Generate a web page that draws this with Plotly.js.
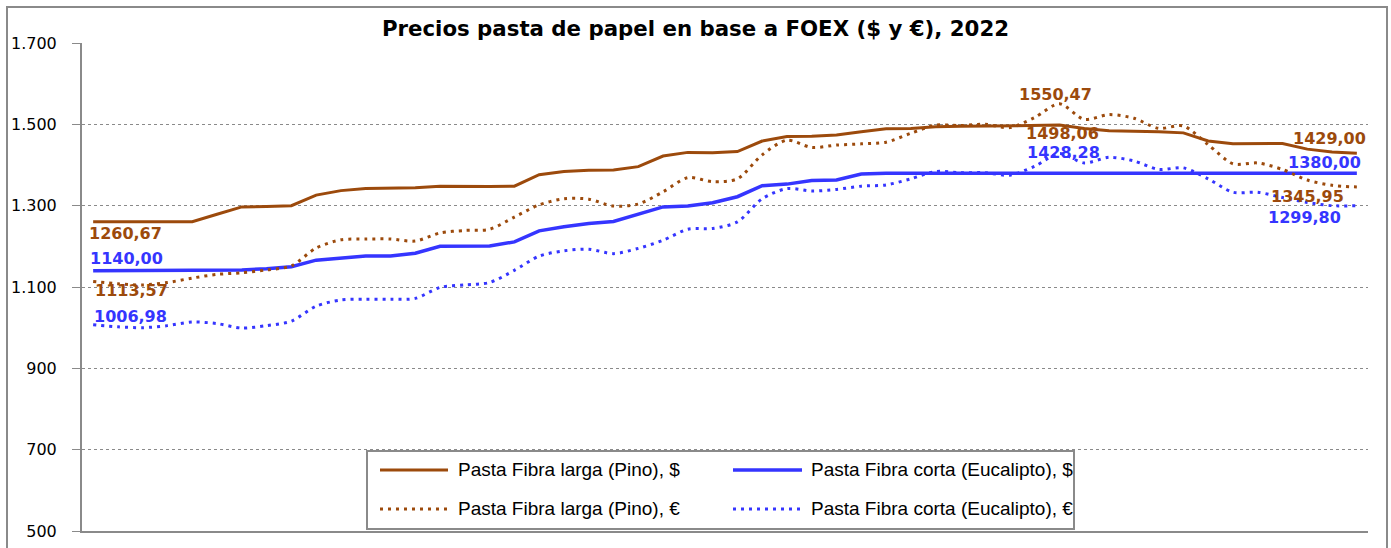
<!DOCTYPE html>
<html><head><meta charset="utf-8">
<script src="https://cdn.plot.ly/plotly-3.0.1.min.js"></script>
<style>html,body{margin:0;padding:0;background:#fff;} #chart{width:1391px;height:548px;}</style>
</head><body><div id="chart"></div>
<script>
// ---- DATA ----
const semanas = [1,2,3,4,5,6,7,8,9,10,11,12,13,14,15,16,17,18,19,20,21,22,23,24,25,26,27,28,29,30,31,32,33,34,35,36,37,38,39,40,41,42,43,44,45,46,47,48,49,50,51,52];
const pinoUSD = [1260.67,1260.67,1260.67,1260.67,1260.67,1279,1297,1298,1300,1326,
                 1337,1342,1343,1344,1348,1347,1347,1348,1376,1384,
                 1387,1388,1396,1422,1431,1430,1433,1459,1470,1471,
                 1474,1482,1489,1490,1494,1495,1496,1497,1498,1498.06,
                 1490,1484,1483,1482,1479,1459,1452,1452,1453,1439,
                 1432,1429.00];
const eucaUSD = [1140,1140,1140,1140,1140,1140,1142,1145,1150,1166,
                 1172,1176,1176,1183,1200,1200,1201,1211,1238,1248,
                 1256,1261,1279,1297,1299,1307,1322,1349,1353,1362,
                 1363,1378,1380,1380,1380,1380,1380,1380,1380,1380,
                 1380,1380,1380,1380,1380,1380,1380,1380,1380,1380,
                 1380,1380.00];
const pinoEUR = [1113.57,1108,1105,1111,1122,1131,1135,1142,1152,1196,
                 1216,1218,1218,1213,1233,1239,1242,1272,1302,1317,
                 1316,1299,1304,1334,1369,1359,1366,1425,1461,1443,
                 1449,1452,1456,1478,1498,1497,1500,1492,1517,1550.47,
                 1512,1524,1515,1490,1496,1450,1403,1405,1389,1363,
                 1350,1345.95];
const eucaEUR = [1006.98,1002,1000,1005,1014,1010,999,1005,1016,1053,
                 1068,1070,1070,1072,1099,1105,1111,1141,1176,1189,
                 1193,1182,1195,1215,1242,1244,1260,1317,1342,1336,
                 1340,1348,1351,1366,1384,1381,1381,1375,1397,1428.28,
                 1405,1419,1410,1389,1393,1366,1333,1333,1320,1308,
                 1300,1299.80];
const nombres = ["Pasta Fibra larga (Pino), $","Pasta Fibra corta (Eucalipto), $",
                 "Pasta Fibra larga (Pino), €","Pasta Fibra corta (Eucalipto), €"];
const yTicks = [500,700,900,1100,1300,1500,1700];
const titulo = "Precios pasta de papel en base a FOEX ($ y €), 2022";

// ---- STYLE ----
const marron = "#9C4A0C", azul = "#3535FF", gris = "#8a8a8a";
const W = 1391, H = 548, L = 82, R = 23, T = 43, B = 17;
const PW = W - L - R, PH = H - T - B;
const fx = px => (px - L) / PW;
const fy = py => (H - B - py) / PH;
const DOT = "3px,5px";

const series = [
  {y: pinoUSD, color: marron, dash: "solid", width: 3, shape: "linear"},
  {y: eucaUSD, color: azul, dash: "solid", width: 3.5, shape: "linear"},
  {y: pinoEUR, color: marron, dash: DOT, width: 3, shape: "spline"},
  {y: eucaEUR, color: azul, dash: DOT, width: 3, shape: "spline"}
];
const traces = series.map((s, k) => ({
  x: semanas, y: s.y, type: "scatter", mode: "lines", name: nombres[k],
  line: {color: s.color, width: s.width, dash: s.dash, shape: s.shape, smoothing: 0.8},
  showlegend: false, hoverinfo: "skip"
}));

const fmt = v => v.toFixed(2).replace(".", ",");
// [serie, punto, xanchor, xshift, yshift]
const etiquetas = [
  [0, 0, "left", -6, -12],
  [1, 0, "left", -5, 12],
  [2, 0, "left", 0, -9],
  [3, 0, "left", -1, 8],
  [2, 39, "center", -4, 9],
  [0, 39, "center", 3, -8],
  [3, 39, "center", 4, 1],
  [0, 51, "right", 11, 15],
  [1, 51, "right", 6, 11],
  [2, 51, "right", -11, -10],
  [3, 51, "right", -14, -12]
];
const annotations = etiquetas.map(([s, i, xa, xs, ys]) => ({
  x: semanas[i], y: series[s].y[i], xref: "x", yref: "y", showarrow: false,
  text: fmt(series[s].y[i]), xanchor: xa, yanchor: "middle", xshift: xs, yshift: ys,
  font: {family: "DejaVu Sans", size: 16, color: series[s].color, weight: "bold"}
}));

// legend (custom)
const legRows = [470, 509], legCols = [[380, 448, 456], [733, 802, 809]];
const shapes = [
  {type: "rect", xref: "paper", yref: "paper", x0: fx(7), x1: fx(1387), y0: fy(570), y1: fy(7),
   line: {color: gris, width: 2}, fillcolor: "rgba(0,0,0,0)", layer: "below"},
  {type: "rect", xref: "paper", yref: "paper", x0: fx(367), x1: fx(1074), y0: fy(529), y1: fy(451),
   line: {color: gris, width: 2}, fillcolor: "#ffffff", layer: "above"}
];
const legOrder = [[0, 0], [0, 1], [1, 0], [1, 1]]; // [row, col] per series
legOrder.forEach(([r, c], k) => {
  const s = series[k];
  shapes.push({type: "line", xref: "paper", yref: "paper",
    x0: fx(legCols[c][0]), x1: fx(legCols[c][1]), y0: fy(legRows[r]), y1: fy(legRows[r]),
    line: {color: s.color, width: s.width, dash: s.dash}, layer: "above"});
  annotations.push({xref: "paper", yref: "paper", x: fx(legCols[c][2]), y: fy(legRows[r] - 1),
    text: nombres[k], showarrow: false, xanchor: "left", yanchor: "middle",
    font: {family: "Liberation Sans", size: 19, color: "#000"}});
});

const layout = {
  width: W, height: H, margin: {l: L, r: R, t: T, b: B, pad: 0},
  paper_bgcolor: "#fff", plot_bgcolor: "#fff",
  separators: ",.",
  title: {text: titulo, x: 0.5, xref: "container", xanchor: "center", y: 1 - 29 / H, yref: "container", yanchor: "middle",
          font: {family: "DejaVu Sans", size: 21.3, color: "#000", weight: "bold"}},
  xaxis: {range: [0.55, 52.45], showgrid: false, zeroline: false, showticklabels: false, ticks: "",
          showline: true, linecolor: gris, linewidth: 2, fixedrange: true},
  yaxis: {range: [500, 1700], tickvals: yTicks, separatethousands: true, showgrid: true, gridcolor: gris,
          griddash: "dot", gridwidth: 1, zeroline: false, showline: true, linecolor: gris, linewidth: 2,
          ticks: "outside", ticklen: 8, tickcolor: gris, tickwidth: 1, ticklabelstandoff: 12,
          tickfont: {family: "DejaVu Sans", size: 16, color: "#000"}, fixedrange: true},
  annotations: annotations, shapes: shapes, showlegend: false
};
Plotly.newPlot("chart", traces, layout, {displayModeBar: false, staticPlot: true});
</script></body></html>
